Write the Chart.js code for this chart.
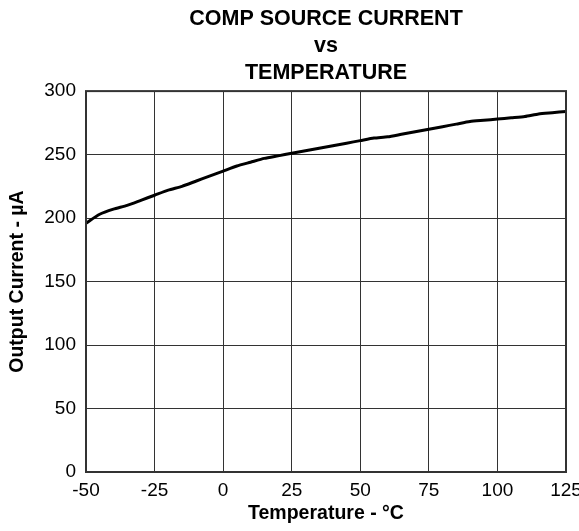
<!DOCTYPE html>
<html>
<head>
<meta charset="utf-8">
<script src="https://cdn.jsdelivr.net/npm/chart.js@4.4.0/dist/chart.umd.min.js"></script>
<style>
  html, body { margin: 0; padding: 0; background: #fff; }
  #wrap { width: 579px; height: 531px; }
</style>
</head>
<body>
<div id="wrap"><canvas id="chart" width="579" height="531"></canvas></div>
<script>
// temperature in degC, current in uA
var temps = [-50,-45,-40,-35,-30,-25,-20,-15,-10,-5,0,5,10,15,20,25,30,35,40,45,50,55,60,65,70,75,80,85,90,95,100,105,110,115,120,125];
var current = [196,203,207,210,214,218,222,225,229,233,237,241,244,247,249,251,253,255,257,259,261,263,264,266,268,270,272,274,276,277,278,279,280,282,283,284];
var xTicks = [-50,-25,0,25,50,75,100,125];
var yTicks = [0,50,100,150,200,250,300];

var pts = temps.map(function(t, i){ return {x: t, y: current[i]}; });

// box around the plot area
var frame = {
  id: 'frame',
  afterDraw: function(chart) {
    var a = chart.chartArea, ctx = chart.ctx;
    ctx.save();
    ctx.strokeStyle = '#333';
    ctx.lineWidth = 2;
    ctx.strokeRect(a.left, a.top, a.right - a.left, a.bottom - a.top);
    ctx.restore();
  }
};

Chart.defaults.font.family = '"Liberation Sans", Arial, sans-serif';
Chart.defaults.color = '#000';

new Chart(document.getElementById('chart'), {
  type: 'line',
  data: {
    datasets: [{
      data: pts,
      borderColor: '#000',
      borderWidth: 3,
      pointRadius: 0,
      tension: 0.2,
      fill: false
    }]
  },
  options: {
    responsive: false,
    animation: false,
    layout: { padding: { left: 0, right: 13, top: 0, bottom: 0 } },
    plugins: {
      legend: { display: false },
      tooltip: { enabled: false },
      title: {
        display: true,
        fullSize: false,
        text: ['COMP SOURCE CURRENT', 'vs', 'TEMPERATURE'],
        font: { size: 21.5, weight: 'bold', lineHeight: 1.242 },
        color: '#000',
        padding: { top: 6, bottom: 5 }
      }
    },
    scales: {
      x: {
        type: 'linear',
        min: -50,
        max: 125,
        afterBuildTicks: function(s) { s.ticks = xTicks.map(function(v){ return {value: v}; }); },
        afterFit: function(s) { s.height = 59; s.paddingLeft = 0; s.paddingRight = 0; },
        grid: { color: '#333', lineWidth: 1, drawTicks: false },
        border: { display: false },
        ticks: { font: { size: 19 }, padding: 7, maxRotation: 0 },
        title: { display: true, text: 'Temperature - °C', font: { size: 19.5, weight: 'bold' }, padding: { top: 0, bottom: 6 } }
      },
      y: {
        min: 0,
        max: 300,
        afterBuildTicks: function(s) { s.ticks = yTicks.map(function(v){ return {value: v}; }); },
        afterFit: function(s) { s.width = 86; s.paddingTop = 0; s.paddingBottom = 0; },
        grid: { color: '#333', lineWidth: 1, drawTicks: false },
        border: { display: false },
        ticks: { font: { size: 19 }, padding: 10 },
        title: { display: true, text: 'Output Current - µA', font: { size: 19.5, weight: 'bold' }, padding: { top: 6, bottom: 0 } }
      }
    }
  },
  plugins: [frame]
});
</script>
</body>
</html>
